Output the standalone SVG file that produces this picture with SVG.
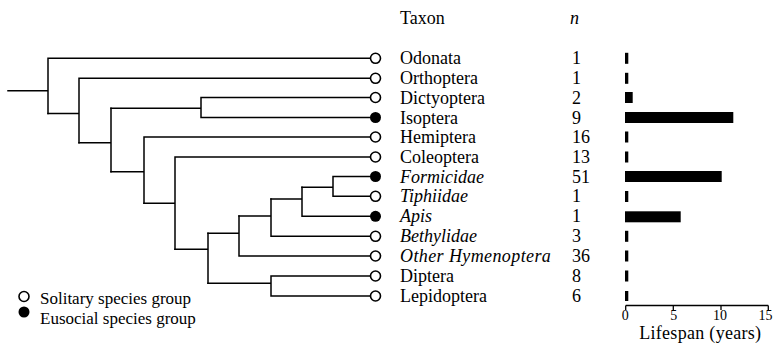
<svg xmlns="http://www.w3.org/2000/svg" width="773" height="349" viewBox="0 0 773 349">
<style>
  .br { fill: none; stroke: #000; stroke-width: 1.5; stroke-linecap: square; }
  .open { fill: #fff; stroke: #000; stroke-width: 1.6; }
  .soc { fill: #000; }
  .lbl { font-family: "Liberation Serif", "Times New Roman", serif; font-size: 18px; fill: #000; }
  .it { font-style: italic; }
  .tick { font-family: "Liberation Serif", "Times New Roman", serif; font-size: 14px; fill: #000; text-anchor: middle; }
  .leg { font-family: "Liberation Serif", "Times New Roman", serif; font-size: 17px; fill: #000; }
  .bar { fill: #000; }
  .ax { fill: none; stroke: #000; stroke-width: 1.3; }
</style>
<rect width="773" height="349" fill="#fff"/>

<g id="connectors">
  <path class="br" d="M8 90.7 H48 M48 58.3 V113.5 M48 58.3 H370"/>
  <path class="br" d="M48 113.5 H79 M79 78.3 V142.7 M79 78.3 H370"/>
  <path class="br" d="M79 142.7 H111 M111 108.3 V171.7"/>
  <path class="br" d="M111 108.3 H201 M201 97.5 V117.5 M201 97.5 H370 M201 117.5 H370"/>
  <path class="br" d="M111 171.7 H144 M144 137 V203.3 M144 137 H370"/>
  <path class="br" d="M144 203.3 H175 M175 157 V249.3 M175 157 H370"/>
  <path class="br" d="M175 249.3 H208 M208 233.3 V283.3"/>
  <path class="br" d="M208 233.3 H239 M239 216 V256 M239 256 H370"/>
  <path class="br" d="M239 216 H271 M271 199 V236.3 M271 236.3 H370"/>
  <path class="br" d="M271 199 H302 M302 187.3 V216.3 M302 216.3 H370"/>
  <path class="br" d="M302 187.3 H333 M333 176.5 V196.3 M333 176.5 H370 M333 196.3 H370"/>
  <path class="br" d="M208 283.3 H271 M271 276 V296 M271 276 H370 M271 296 H370"/>
</g>

<g id="header">
  <text class="lbl" x="400" y="24">Taxon</text>
  <text class="lbl it" x="570" y="24">n</text>
</g>

<g id="odonata">
  <circle class="open" cx="375.5" cy="58.3" r="5"/>
  <text class="lbl" x="400" y="64.3">Odonata</text>
  <text class="lbl" x="572" y="64.3">1</text>
  <rect class="bar" x="625" y="52.8" width="3.3" height="11"/>
</g>
<g id="orthoptera">
  <circle class="open" cx="375.5" cy="78.3" r="5"/>
  <text class="lbl" x="400" y="84.3">Orthoptera</text>
  <text class="lbl" x="572" y="84.3">1</text>
  <rect class="bar" x="625" y="72.8" width="3.3" height="11"/>
</g>
<g id="dictyoptera">
  <circle class="open" cx="375.5" cy="97.5" r="5"/>
  <text class="lbl" x="400" y="103.5">Dictyoptera</text>
  <text class="lbl" x="572" y="103.5">2</text>
  <rect class="bar" x="625" y="92" width="7.7" height="11"/>
</g>
<g id="isoptera">
  <circle class="soc" cx="375.5" cy="117.5" r="5.5"/>
  <text class="lbl" x="400" y="123.5">Isoptera</text>
  <text class="lbl" x="572" y="123.5">9</text>
  <rect class="bar" x="625" y="112" width="108.3" height="11"/>
</g>
<g id="hemiptera">
  <circle class="open" cx="375.5" cy="137" r="5"/>
  <text class="lbl" x="400" y="143">Hemiptera</text>
  <text class="lbl" x="572" y="143">16</text>
  <rect class="bar" x="625" y="131.5" width="3.3" height="11"/>
</g>
<g id="coleoptera">
  <circle class="open" cx="375.5" cy="157" r="5"/>
  <text class="lbl" x="400" y="163">Coleoptera</text>
  <text class="lbl" x="572" y="163">13</text>
  <rect class="bar" x="625" y="151.5" width="3.3" height="11"/>
</g>
<g id="formicidae">
  <circle class="soc" cx="375.5" cy="176.5" r="5.5"/>
  <text class="lbl it" x="400" y="182.5">Formicidae</text>
  <text class="lbl" x="572" y="182.5">51</text>
  <rect class="bar" x="625" y="171" width="96.7" height="11"/>
</g>
<g id="tiphiidae">
  <circle class="open" cx="375.5" cy="196.3" r="5"/>
  <text class="lbl it" x="400" y="202.3">Tiphiidae</text>
  <text class="lbl" x="572" y="202.3">1</text>
  <rect class="bar" x="625" y="191" width="3.3" height="11"/>
</g>
<g id="apis">
  <circle class="soc" cx="375.5" cy="216.3" r="5.5"/>
  <text class="lbl it" x="400" y="222.3">Apis</text>
  <text class="lbl" x="572" y="222.3">1</text>
  <rect class="bar" x="625" y="211.3" width="55.7" height="11"/>
</g>
<g id="bethylidae">
  <circle class="open" cx="375.5" cy="236.3" r="5"/>
  <text class="lbl it" x="400" y="242.3">Bethylidae</text>
  <text class="lbl" x="572" y="242.3">3</text>
  <rect class="bar" x="625" y="230.8" width="3.3" height="11"/>
</g>
<g id="other-hymenoptera">
  <circle class="open" cx="375.5" cy="256" r="5"/>
  <text class="lbl it" x="400" y="262" letter-spacing="0.4">Other Hymenoptera</text>
  <text class="lbl" x="572" y="262">36</text>
  <rect class="bar" x="625" y="250.5" width="3.3" height="11"/>
</g>
<g id="diptera">
  <circle class="open" cx="375.5" cy="276" r="5"/>
  <text class="lbl" x="400" y="282">Diptera</text>
  <text class="lbl" x="572" y="282">8</text>
  <rect class="bar" x="625" y="270.5" width="3.3" height="11"/>
</g>
<g id="lepidoptera">
  <circle class="open" cx="375.5" cy="296" r="5"/>
  <text class="lbl" x="400" y="302">Lepidoptera</text>
  <text class="lbl" x="572" y="302">6</text>
  <rect class="bar" x="625" y="291" width="3.3" height="10"/>
</g>

<g id="axis">
  <path class="ax" d="M625.7 305.5 H768.3 M625.7 305.5 V310 M673.3 305.5 V310 M721 305.5 V310 M768.3 305.5 V310"/>
  <text class="tick" x="625.2" y="319.5">0</text>
  <text class="tick" x="673.8" y="319.5">5</text>
  <text class="tick" x="720" y="319.5">10</text>
  <text class="tick" x="765.5" y="319.5">15</text>
  <text class="lbl" x="700.3" y="339" text-anchor="middle" letter-spacing="0.3">Lifespan (years)</text>
</g>

<g id="legend">
  <circle class="open" cx="24" cy="296.5" r="5"/>
  <text class="leg" x="40" y="303.5">Solitary species group</text>
  <circle class="soc" cx="24" cy="312" r="5.5"/>
  <text class="leg" x="40" y="324">Eusocial species group</text>
</g>
</svg>
